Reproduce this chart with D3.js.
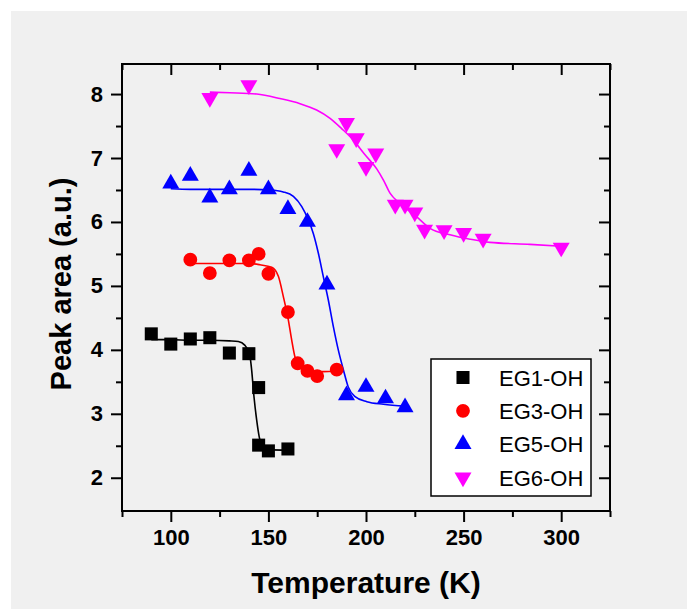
<!DOCTYPE html>
<html>
  <head>
    <meta charset="utf-8">
    <script src="https://cdn.jsdelivr.net/npm/d3@7/dist/d3.min.js"></script>
    <style>
      body { margin: 0; background: #fff; }
      svg { display: block; font-family: Arial, 'Liberation Sans', sans-serif; }
    </style>
  </head>
  <body>
    <svg width="687" height="609"></svg>
    <script>
      // measured points
      const eg1T = [90, 100, 110, 120, 130, 140, 145, 145, 150, 160]
      const eg1V = [4.25, 4.09, 4.17, 4.19, 3.95, 3.94, 3.41, 2.51, 2.42, 2.45]
      const eg3T = [110, 120, 130, 140, 145, 150, 160, 165, 170, 175, 185]
      const eg3V = [5.41, 5.2, 5.4, 5.4, 5.5, 5.19, 4.59, 3.79, 3.67, 3.59, 3.69]
      const eg5T = [100, 110, 120, 130, 140, 150, 160, 170, 180, 190, 200, 210, 220]
      const eg5V = [6.6, 6.72, 6.38, 6.51, 6.8, 6.51, 6.2, 6.0, 5.02, 3.29, 3.42, 3.24, 3.1]
      const eg6T = [120, 140, 185, 190, 195, 200, 205, 215, 220, 225, 230, 240, 250, 260, 300]
      const eg6V = [7.94, 8.14, 7.14, 7.55, 7.31, 6.86, 7.07, 6.27, 6.27, 6.15, 5.88, 5.87, 5.83, 5.74, 5.6]

      // fitted curves
      const fit1T = [90, 100, 110, 120, 130, 134.6, 138, 140.6, 141.4, 142.6, 144, 145.3, 146.6, 150, 160]
      const fit1V = [4.16, 4.16, 4.15, 4.15, 4.14, 4.13, 4.07, 3.89, 3.69, 3.27, 2.9, 2.64, 2.51, 2.44, 2.43]
      const fit3T = [110, 120, 130, 140, 145.7, 151.7, 155.1, 157.6, 160.2, 161.9, 163.6, 166.2, 171.3, 178, 185]
      const fit3V = [5.35, 5.35, 5.35, 5.35, 5.33, 5.29, 5.15, 4.84, 4.47, 4.16, 3.89, 3.74, 3.67, 3.66, 3.67]
      const fit5T = [100, 110, 120, 130, 140, 150.8, 157.6, 162.8, 167.1, 170.5, 173, 175.6, 178.1, 180.7, 183.3, 185.8, 188.4, 190.9, 194.4, 200.4, 208.9, 220]
      const fit5V = [6.52, 6.51, 6.51, 6.51, 6.51, 6.5, 6.47, 6.4, 6.24, 6.03, 5.82, 5.51, 5.15, 4.78, 4.36, 4.0, 3.69, 3.42, 3.27, 3.19, 3.15, 3.12]
      const fit6T = [120, 130.3, 144, 155.9, 166.2, 174.7, 181.6, 187.5, 193.5, 199.5, 205.5, 209, 212.3, 217.4, 226, 232.8, 243, 253.3, 263.5, 284, 300]
      const fit6V = [8.03, 8.02, 8.0, 7.93, 7.85, 7.75, 7.62, 7.46, 7.28, 7.05, 6.83, 6.65, 6.45, 6.29, 6.08, 5.9, 5.8, 5.73, 5.68, 5.65, 5.62]

      const seriesNames = ['EG1-OH', 'EG3-OH', 'EG5-OH', 'EG6-OH']
      const xMajor = [100, 150, 200, 250, 300]
      const xMinor = [75, 125, 175, 225, 275, 325]
      const yMajor = [2, 3, 4, 5, 6, 7, 8]
      const yMinor = [2.5, 3.5, 4.5, 5.5, 6.5, 7.5]

      const svg = d3.select('svg')
      const L = 122, R = 610, T = 64, B = 511

      svg.append('rect').attr('x', 11).attr('y', 11).attr('width', 676).attr('height', 598).attr('fill', '#f0f0f0')

      const x = d3.scaleLinear().domain([75, 325]).range([L, R])
      const y = d3.scaleLinear().domain([1.48, 8.47]).range([B, T])

      const series = [
        { name: seriesNames[0], t: eg1T, v: eg1V, ft: fit1T, fv: fit1V, color: '#000000', sym: d3.symbolSquare, size: 170, rot: 0 },
        { name: seriesNames[1], t: eg3T, v: eg3V, ft: fit3T, fv: fit3V, color: '#ff0000', sym: d3.symbolCircle, size: 150, rot: 0 },
        { name: seriesNames[2], t: eg5T, v: eg5V, ft: fit5T, fv: fit5V, color: '#0000ff', sym: d3.symbolTriangle, size: 125, rot: 0 },
        { name: seriesNames[3], t: eg6T, v: eg6V, ft: fit6T, fv: fit6V, color: '#ff00ff', sym: d3.symbolTriangle, size: 125, rot: 180 }
      ]

      // axes
      function styleAxis(g) {
        g.select('.domain').remove()
        g.selectAll('.tick line').attr('stroke', '#000').attr('stroke-width', 2)
        g.selectAll('.tick text').attr('fill', '#000').attr('font-size', 22).attr('font-weight', 'bold')
      }
      svg.append('g').attr('transform', `translate(0,${B})`)
        .call(d3.axisBottom(x).tickValues(xMajor).tickSize(11).tickPadding(7).tickFormat(d3.format('d'))).call(styleAxis)
      svg.append('g').attr('transform', `translate(0,${B})`)
        .call(d3.axisBottom(x).tickValues(xMinor).tickSize(6).tickFormat('')).call(styleAxis)
      svg.append('g').attr('transform', `translate(0,${T})`)
        .call(d3.axisTop(x).tickValues(xMajor).tickSize(-11).tickFormat('')).call(styleAxis)
      svg.append('g').attr('transform', `translate(0,${T})`)
        .call(d3.axisTop(x).tickValues(xMinor).tickSize(-6).tickFormat('')).call(styleAxis)
      svg.append('g').attr('transform', `translate(${L},0)`)
        .call(d3.axisLeft(y).tickValues(yMajor).tickSize(11).tickPadding(8).tickFormat(d3.format('d'))).call(styleAxis)
      svg.append('g').attr('transform', `translate(${L},0)`)
        .call(d3.axisLeft(y).tickValues(yMinor).tickSize(6).tickFormat('')).call(styleAxis)
      svg.append('g').attr('transform', `translate(${R},0)`)
        .call(d3.axisRight(y).tickValues(yMajor).tickSize(-11).tickFormat('')).call(styleAxis)
      svg.append('g').attr('transform', `translate(${R},0)`)
        .call(d3.axisRight(y).tickValues(yMinor).tickSize(-6).tickFormat('')).call(styleAxis)

      svg.append('rect').attr('x', L).attr('y', T).attr('width', R - L).attr('height', B - T)
        .attr('fill', 'none').attr('stroke', '#000').attr('stroke-width', 2)

      // fit lines
      const line = d3.line().x(d => x(d[0])).y(d => y(d[1])).curve(d3.curveMonotoneX)
      series.forEach(s => {
        svg.append('path').datum(s.ft.map((t, i) => [t, s.fv[i]]))
          .attr('d', line).attr('fill', 'none').attr('stroke', s.color).attr('stroke-width', 1.6)
      })

      // markers
      series.forEach(s => {
        svg.append('g').selectAll('path').data(s.t.map((t, i) => [t, s.v[i]])).enter().append('path')
          .attr('d', d3.symbol().type(s.sym).size(s.size))
          .attr('transform', d => `translate(${x(d[0])},${y(d[1])}) rotate(${s.rot})`)
          .attr('fill', s.color)
      })

      // axis titles
      svg.append('text').attr('x', (L + R) / 2).attr('y', 593).attr('text-anchor', 'middle')
        .attr('font-size', 30).attr('font-weight', 'bold').text('Temperature (K)')
      svg.append('text').attr('transform', 'translate(71,284) rotate(-90)').attr('text-anchor', 'middle')
        .attr('font-size', 29).attr('font-weight', 'bold').text('Peak area (a.u.)')

      // legend
      const leg = svg.append('g')
      leg.append('rect').attr('x', 431).attr('y', 359).attr('width', 160).attr('height', 137)
        .attr('fill', '#fff').attr('stroke', '#000').attr('stroke-width', 1.5)
      series.forEach((s, i) => {
        const cy = 377.5 + i * 33.3
        leg.append('path').attr('d', d3.symbol().type(s.sym).size(s.size))
          .attr('transform', `translate(463,${cy}) rotate(${s.rot})`).attr('fill', s.color)
        leg.append('text').attr('x', 499).attr('y', cy + 8.3).attr('font-size', 22).text(s.name)
      })
    </script>
  </body>
</html>
